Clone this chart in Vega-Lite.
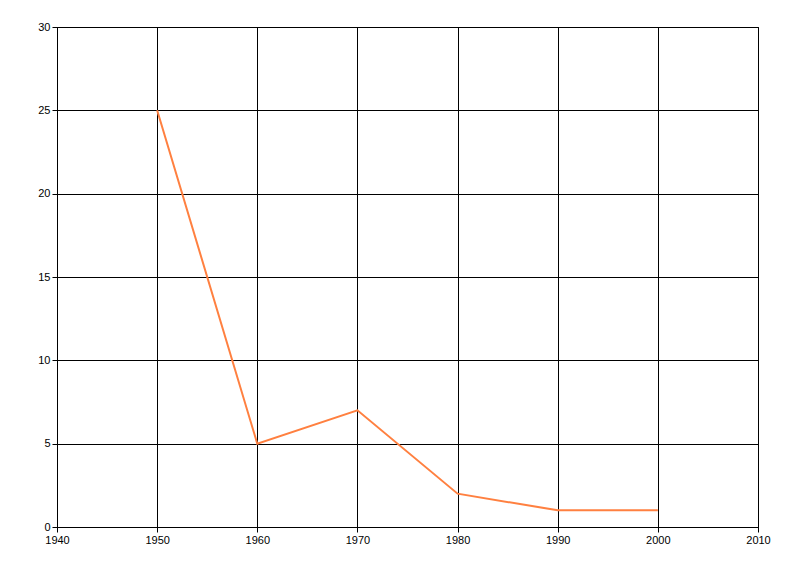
{
  "$schema": "https://vega.github.io/schema/vega-lite/v6.json",
  "width": 701,
  "height": 500,
  "autosize": {"type": "none"},
  "padding": {"left": 57, "top": 27, "right": 42, "bottom": 49},
  "background": "white",
  "config": {
    "view": {"stroke": "black", "strokeWidth": 1},
    "axis": {
      "labelFont": "Liberation Sans",
      "labelFontSize": 11,
      "labelColor": "black",
      "domainColor": "black",
      "tickColor": "black",
      "gridColor": "black",
      "gridOpacity": 1,
      "gridWidth": 1,
      "tickSize": 5,
      "labelPadding": 2,
      "title": null
    }
  },
  "data": {
    "values": [
      {"year": 1950, "value": 25},
      {"year": 1960, "value": 5},
      {"year": 1970, "value": 7},
      {"year": 1980, "value": 2},
      {"year": 1990, "value": 1},
      {"year": 2000, "value": 1}
    ]
  },
  "mark": {"type": "line", "color": "#FF8040", "strokeWidth": 2},
  "encoding": {
    "x": {
      "field": "year",
      "type": "quantitative",
      "scale": {"domain": [1940, 2010], "nice": false, "zero": false},
      "axis": {"values": [1940, 1950, 1960, 1970, 1980, 1990, 2000, 2010], "format": "d", "grid": true, "labelFlush": false}
    },
    "y": {
      "field": "value",
      "type": "quantitative",
      "scale": {"domain": [0, 30], "nice": false},
      "axis": {"values": [0, 5, 10, 15, 20, 25, 30], "grid": true, "labelFlush": false}
    }
  }
}
